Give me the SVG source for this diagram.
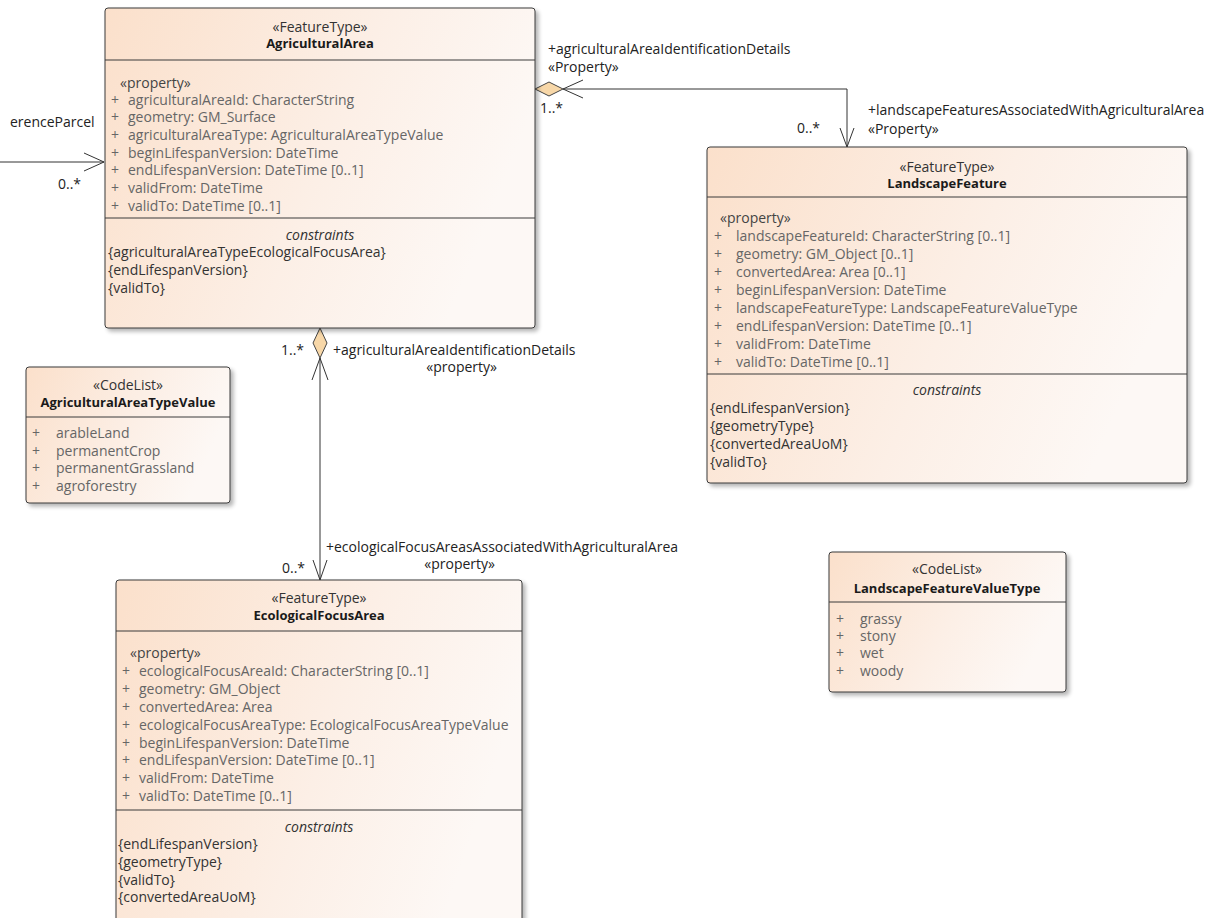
<svg xmlns="http://www.w3.org/2000/svg" width="1212" height="918" viewBox="0 0 1212 918">
<defs>
<linearGradient id="fill" x1="0" y1="0" x2="1" y2="0.3">
<stop offset="0" stop-color="#fbe0cb"/>
<stop offset="0.6" stop-color="#fcefe6"/>
<stop offset="1" stop-color="#fdf8f5"/>
</linearGradient>
<filter id="shadow" x="-5%" y="-5%" width="115%" height="115%">
<feGaussianBlur in="SourceAlpha" stdDeviation="2"/>
<feOffset dx="3" dy="3"/>
<feComponentTransfer><feFuncA type="linear" slope="0.3"/></feComponentTransfer>
<feMerge><feMergeNode/><feMergeNode in="SourceGraphic"/></feMerge>
</filter>
</defs>
<style>
text{font-family:"Open Sans","Noto Sans","Liberation Sans",sans-serif;font-size:14px;}
.box{fill:url(#fill);stroke:#3a3a3a;stroke-width:1;filter:url(#shadow);}
.div{stroke:#3a3a3a;stroke-width:1;}
.st{fill:#333;text-anchor:middle;}
.ti{fill:#1a1a1a;font-weight:bold;font-size:13px;text-anchor:middle;}
.pr{fill:#444;}
.at{fill:#666;}
.pl{fill:#666;}
.ci{fill:#333;font-style:italic;text-anchor:middle;}
.co{fill:#333;}
.ln{fill:none;stroke:#333;stroke-width:1;}
.dia{fill:#f7d7a8;stroke:#444;stroke-width:1;}
.lb{fill:#222;}
</style>

<g id="connectors">
<path class="ln" d="M0,162 H104"/>
<path class="ln" d="M84,153 L104,162 L84,171"/>
<text class="lb" x="10" y="127">erenceParcel</text>
<text class="lb" x="58" y="189">0..*</text>

<path class="ln" d="M563,89 H847 V147"/>
<path class="dia" d="M535,89 L549,82 L563,89 L549,96 Z"/>
<path class="ln" d="M583,80 L563,89 L583,98"/>
<path class="ln" d="M840,128 L847,147 L854,128"/>
<text class="lb" x="548" y="54">+agriculturalAreaIdentificationDetails</text>
<text class="lb" x="548" y="72">«Property»</text>
<text class="lb" x="540" y="113">1..*</text>
<text class="lb" x="797" y="133">0..*</text>
<text class="lb" x="868" y="115">+landscapeFeaturesAssociatedWithAgriculturalArea</text>
<text class="lb" x="868" y="134">«Property»</text>

<path class="ln" d="M320,358 V580"/>
<path class="dia" d="M320,328 L327,343 L320,358 L313,343 Z"/>
<path class="ln" d="M312,380 L320,358 L328,380"/>
<path class="ln" d="M313,560 L320,580 L327,560"/>
<text class="lb" x="281" y="355">1..*</text>
<text class="lb" x="333" y="355">+agriculturalAreaIdentificationDetails</text>
<text class="lb" x="497" y="372" text-anchor="end">«property»</text>
<text class="lb" x="326" y="552">+ecologicalFocusAreasAssociatedWithAgriculturalArea</text>
<text class="lb" x="495" y="569" text-anchor="end">«property»</text>
<text class="lb" x="282" y="573">0..*</text>
</g>

<g id="AgriculturalArea">
<rect class="box" x="105" y="8" width="430" height="320" rx="3"/>
<line class="div" x1="105" y1="60" x2="535" y2="60"/>
<line class="div" x1="105" y1="218" x2="535" y2="218"/>
<text class="st" x="320" y="32">«FeatureType»</text>
<text class="ti" x="320" y="48">AgriculturalArea</text>
<text class="pr" x="120" y="88">«property»</text>
<text class="pl" x="111" y="105">+</text><text class="at" x="128" y="105">agriculturalAreaId: CharacterString</text>
<text class="pl" x="111" y="122">+</text><text class="at" x="128" y="122">geometry: GM_Surface</text>
<text class="pl" x="111" y="140">+</text><text class="at" x="128" y="140">agriculturalAreaType: AgriculturalAreaTypeValue</text>
<text class="pl" x="111" y="158">+</text><text class="at" x="128" y="158">beginLifespanVersion: DateTime</text>
<text class="pl" x="111" y="175">+</text><text class="at" x="128" y="175">endLifespanVersion: DateTime [0..1]</text>
<text class="pl" x="111" y="193">+</text><text class="at" x="128" y="193">validFrom: DateTime</text>
<text class="pl" x="111" y="211">+</text><text class="at" x="128" y="211">validTo: DateTime [0..1]</text>
<text class="ci" x="320" y="240">constraints</text>
<text class="co" x="108" y="257">{agriculturalAreaTypeEcologicalFocusArea}</text>
<text class="co" x="108" y="275">{endLifespanVersion}</text>
<text class="co" x="108" y="293">{validTo}</text>
</g>

<g id="LandscapeFeature">
<rect class="box" x="707" y="147" width="480" height="336" rx="3"/>
<line class="div" x1="707" y1="197" x2="1187" y2="197"/>
<line class="div" x1="707" y1="374" x2="1187" y2="374"/>
<text class="st" x="947" y="172">«FeatureType»</text>
<text class="ti" x="947" y="188">LandscapeFeature</text>
<text class="pr" x="720" y="223">«property»</text>
<text class="pl" x="714" y="241">+</text><text class="at" x="736" y="241">landscapeFeatureId: CharacterString [0..1]</text>
<text class="pl" x="714" y="259">+</text><text class="at" x="736" y="259">geometry: GM_Object [0..1]</text>
<text class="pl" x="714" y="277">+</text><text class="at" x="736" y="277">convertedArea: Area [0..1]</text>
<text class="pl" x="714" y="295">+</text><text class="at" x="736" y="295">beginLifespanVersion: DateTime</text>
<text class="pl" x="714" y="313">+</text><text class="at" x="736" y="313">landscapeFeatureType: LandscapeFeatureValueType</text>
<text class="pl" x="714" y="331">+</text><text class="at" x="736" y="331">endLifespanVersion: DateTime [0..1]</text>
<text class="pl" x="714" y="349">+</text><text class="at" x="736" y="349">validFrom: DateTime</text>
<text class="pl" x="714" y="367">+</text><text class="at" x="736" y="367">validTo: DateTime [0..1]</text>
<text class="ci" x="947" y="395">constraints</text>
<text class="co" x="710" y="413">{endLifespanVersion}</text>
<text class="co" x="710" y="431">{geometryType}</text>
<text class="co" x="710" y="449">{convertedAreaUoM}</text>
<text class="co" x="710" y="467">{validTo}</text>
</g>

<g id="AgriculturalAreaTypeValue">
<rect class="box" x="26" y="367" width="204" height="136" rx="3"/>
<line class="div" x1="26" y1="417" x2="230" y2="417"/>
<text class="st" x="128" y="390">«CodeList»</text>
<text class="ti" x="128" y="407">AgriculturalAreaTypeValue</text>
<text class="pl" x="32" y="438">+</text><text class="at" x="56" y="438">arableLand</text>
<text class="pl" x="32" y="456">+</text><text class="at" x="56" y="456">permanentCrop</text>
<text class="pl" x="32" y="473">+</text><text class="at" x="56" y="473">permanentGrassland</text>
<text class="pl" x="32" y="491">+</text><text class="at" x="56" y="491">agroforestry</text>
</g>

<g id="EcologicalFocusArea">
<rect class="box" x="116" y="580" width="406" height="360" rx="3"/>
<line class="div" x1="116" y1="631" x2="522" y2="631"/>
<line class="div" x1="116" y1="810" x2="522" y2="810"/>
<text class="st" x="319" y="603">«FeatureType»</text>
<text class="ti" x="319" y="620">EcologicalFocusArea</text>
<text class="pr" x="130" y="658">«property»</text>
<text class="pl" x="122" y="676">+</text><text class="at" x="139" y="676">ecologicalFocusAreaId: CharacterString [0..1]</text>
<text class="pl" x="122" y="694">+</text><text class="at" x="139" y="694">geometry: GM_Object</text>
<text class="pl" x="122" y="712">+</text><text class="at" x="139" y="712">convertedArea: Area</text>
<text class="pl" x="122" y="730">+</text><text class="at" x="139" y="730">ecologicalFocusAreaType: EcologicalFocusAreaTypeValue</text>
<text class="pl" x="122" y="748">+</text><text class="at" x="139" y="748">beginLifespanVersion: DateTime</text>
<text class="pl" x="122" y="765">+</text><text class="at" x="139" y="765">endLifespanVersion: DateTime [0..1]</text>
<text class="pl" x="122" y="783">+</text><text class="at" x="139" y="783">validFrom: DateTime</text>
<text class="pl" x="122" y="801">+</text><text class="at" x="139" y="801">validTo: DateTime [0..1]</text>
<text class="ci" x="319" y="832">constraints</text>
<text class="co" x="118" y="849">{endLifespanVersion}</text>
<text class="co" x="118" y="867">{geometryType}</text>
<text class="co" x="118" y="885">{validTo}</text>
<text class="co" x="118" y="902">{convertedAreaUoM}</text>
</g>

<g id="LandscapeFeatureValueType">
<rect class="box" x="829" y="552" width="237" height="140" rx="3"/>
<line class="div" x1="829" y1="602" x2="1066" y2="602"/>
<text class="st" x="947" y="574">«CodeList»</text>
<text class="ti" x="947" y="593">LandscapeFeatureValueType</text>
<text class="pl" x="836" y="624">+</text><text class="at" x="860" y="624">grassy</text>
<text class="pl" x="836" y="641">+</text><text class="at" x="860" y="641">stony</text>
<text class="pl" x="836" y="658">+</text><text class="at" x="860" y="658">wet</text>
<text class="pl" x="836" y="676">+</text><text class="at" x="860" y="676">woody</text>
</g>
</svg>
